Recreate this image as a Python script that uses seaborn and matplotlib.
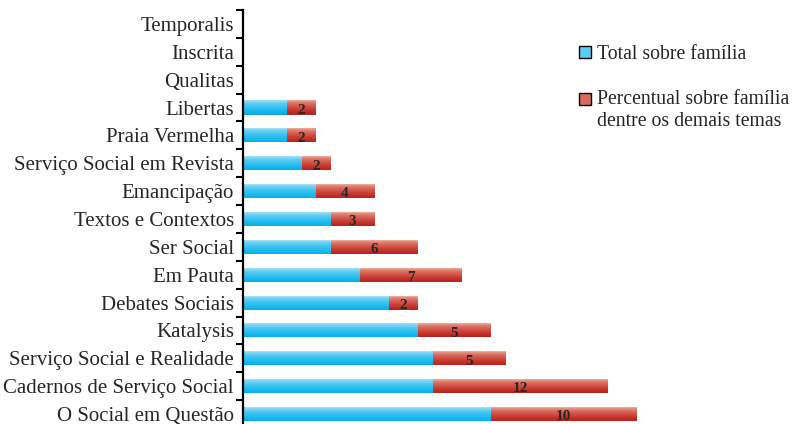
import numpy as np
import pandas as pd
import seaborn as sns
from matplotlib import pyplot as plt
from matplotlib.patches import Patch, Rectangle
from matplotlib.legend_handler import HandlerPatch

journals = [
    "Temporalis", "Inscrita", "Qualitas", "Libertas", "Praia Vermelha",
    "Serviço Social em Revista", "Emancipação", "Textos e Contextos",
    "Ser Social", "Em Pauta", "Debates Sociais", "Katalysis",
    "Serviço Social e Realidade", "Cadernos de Serviço Social",
    "O Social em Questão",
]
total = [0, 0, 0, 3, 3, 4, 5, 6, 6, 8, 10, 12, 13, 13, 17]
percentual = [0, 0, 0, 2, 2, 2, 4, 3, 6, 7, 2, 5, 5, 12, 10]

LABEL_TOTAL = "Total sobre família"
LABEL_PERC = "Percentual sobre família\ndentre os demais temas"

BLUE_TOP, BLUE_BOTTOM = np.array([180, 230, 248]) / 255, np.array([0, 178, 236]) / 255
RED_TOP, RED_BOTTOM = np.array([244, 186, 166]) / 255, np.array([190, 30, 24]) / 255

df = pd.DataFrame({"journal": journals, "total": total, "percentual": percentual})
df["sum"] = df["total"] + df["percentual"]

sns.set_style("white")
plt.rcParams["font.family"] = ["Liberation Serif", "DejaVu Serif"]

fig = plt.figure(figsize=(7.96, 4.24), dpi=100)
ax = fig.add_axes([243 / 796, -4 / 424, 30 * 14.58 / 796, 418 / 424])

sns.barplot(data=df, x="sum", y="journal", color=RED_BOTTOM, width=0.5,
            errorbar=None, linewidth=0, ax=ax)
sns.barplot(data=df, x="total", y="journal", color=BLUE_BOTTOM, width=0.5,
            errorbar=None, linewidth=0, ax=ax)


def gradient(top, bottom, n=64):
    t = np.linspace(0, 1, n) ** 0.55
    return (top[None, :] + (bottom - top)[None, :] * t[:, None])[:, None, :]


n = len(journals)
for k, patch in enumerate(ax.patches):
    w = patch.get_width()
    if w <= 0:
        continue
    x, y, h = patch.get_x(), patch.get_y(), patch.get_height()
    is_red = k < n
    img = gradient(RED_TOP, RED_BOTTOM) if is_red else gradient(BLUE_TOP, BLUE_BOTTOM)
    ax.imshow(img, extent=(x, x + w, y + h, y), aspect="auto", origin="upper",
              interpolation="bilinear", zorder=2.1 if is_red else 2.2)

for i, (t, p) in enumerate(zip(total, percentual)):
    if p > 0:
        ax.text(t + p / 2, i + 0.1, str(p), ha="center", va="center",
                fontsize=11, fontweight="bold", zorder=3)

ax.set_xlim(0, 30)
ax.set_ylim(n - 0.5, -0.5)
ax.set_xlabel("")
ax.set_ylabel("")
ax.xaxis.set_visible(False)
for side in ("top", "right", "bottom"):
    ax.spines[side].set_visible(False)
ax.spines["left"].set_linewidth(1.6)
ax.spines["left"].set_color("black")

ax.set_yticks(np.arange(-0.5, n, 1))
ax.set_yticklabels([])
ax.set_yticks(range(n), labels=journals, minor=True)
ax.tick_params(axis="y", which="major", length=5, width=1.5, direction="out",
               left=True, color="black")
ax.tick_params(axis="y", which="minor", length=0, labelsize=15, pad=6.5)


# legend handle sits beside the first line of a two-line label
class FirstLineHandler(HandlerPatch):
    def __init__(self, shift=0.0, **kw):
        super().__init__(**kw)
        self.shift = shift

    def create_artists(self, legend, orig_handle, xdescent, ydescent,
                       width, height, fontsize, trans):
        p = Rectangle((-xdescent, -ydescent + self.shift * fontsize), width, height)
        self.update_prop(p, orig_handle, legend)
        p.set_transform(trans)
        return [p]


h_total = Patch(facecolor=(0.35, 0.8, 0.95), edgecolor="black", linewidth=1)
h_perc = Patch(facecolor=(0.85, 0.42, 0.36), edgecolor="black", linewidth=1)
fig.legend(handles=[h_total, h_perc], labels=[LABEL_TOTAL, LABEL_PERC],
           loc="upper left", bbox_to_anchor=(561 / 796, 1 - 27 / 424),
           frameon=False, fontsize=14.2, handlelength=0.6, handleheight=0.6,
           handletextpad=0.35, labelspacing=1.35,
           handler_map={h_perc: FirstLineHandler(shift=0.6)})

fig.savefig("out.png", dpi=100)
